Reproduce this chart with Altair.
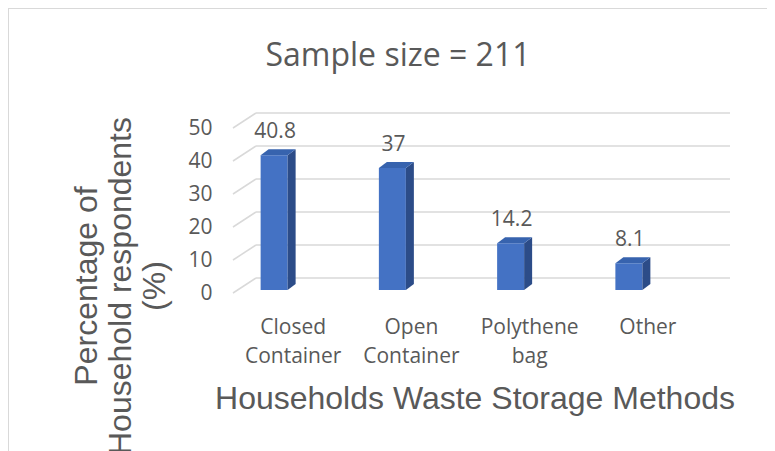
import altair as alt
import numpy as np
import pandas as pd

# ---- data ----
categories = ["Closed Container", "Open Container", "Polythene bag", "Other"]
values = [40.8, 37, 14.2, 8.1]
y_ticks = [0, 10, 20, 30, 40, 50]
title_text = "Sample size = 211"
x_title = "Households Waste Storage Methods"
y_title = ["Percentage of", "Household respondents", "(%)"]

# ---- layout / style constants (pixels) ----
W, H = 473, 165           # plot area
X_DOMAIN = [0, 4]
Y_DOMAIN = [0, 50]
PX_X = W / (X_DOMAIN[1] - X_DOMAIN[0])   # px per x unit
PX_Y = H / (Y_DOMAIN[1] - Y_DOMAIN[0])   # px per y unit
HALF_W = 13.5 / PX_X      # half bar width in x units
DX = 8 / PX_X             # 3-D depth, x
DY = 6 / PX_Y             # 3-D depth, y

TEXT = "#595959"
GRID = "#D9D9D9"
FRONT = "#4472C4"
SIDE = "#2C4C88"
TOP = "#3763AE"
LBL_FONT = "Open Sans"
AX_FONT = "Liberation Sans"

pos = np.arange(len(categories)) + 0.5
bars = pd.DataFrame({
    "cat": categories,
    "value": values,
    "pos": pos,
    "xl": pos - HALF_W,
    "xr": pos + HALF_W,
    "label": [c.replace(" ", "\n") for c in categories],
    "vtext": [f"{v:g}" for v in values],
})

side_rows, top_rows = [], []
for c, v, xl, xr in zip(categories, values, bars["xl"], bars["xr"]):
    side_rows += [
        {"cat": c, "x": xr, "y": v, "y2": 0},
        {"cat": c, "x": xr + DX, "y": v + DY, "y2": DY},
    ]
    top_rows += [
        {"cat": c, "x": xl, "y": v, "y2": v},
        {"cat": c, "x": xl + DX, "y": v + DY, "y2": v},
        {"cat": c, "x": xr, "y": v + DY, "y2": v},
        {"cat": c, "x": xr + DX, "y": v + DY, "y2": v + DY},
    ]
side = pd.DataFrame(side_rows)
top = pd.DataFrame(top_rows)
grid = pd.DataFrame({"t": y_ticks})

xsc = alt.Scale(domain=X_DOMAIN, nice=False, zero=False)
ysc = alt.Scale(domain=Y_DOMAIN, nice=False)

y_axis = alt.Axis(
    values=y_ticks, title=None, domain=False, ticks=False, grid=False,
    labelFont=LBL_FONT, labelFontSize=21, labelColor=TEXT, labelPadding=3,
    labelOffset=3,
)


def Y(field):
    return alt.Y(field, scale=ysc, axis=y_axis, title=None)


grid_diag = alt.Chart(grid).mark_rule(
    color=GRID, strokeWidth=1.5, yOffset=3, y2Offset=-12
).encode(
    y=Y("t:Q"),
    y2="t:Q",
    x=alt.value(18), x2=alt.value(41),
)
grid_back = alt.Chart(grid).mark_rule(
    color=GRID, strokeWidth=1.5, yOffset=-12
).encode(
    y=Y("t:Q"),
    x=alt.value(41), x2=alt.value(515),
)

front = alt.Chart(bars).mark_rect(color=FRONT).encode(
    x=alt.X("xl:Q", scale=xsc, axis=None),
    x2="xr:Q",
    y=Y("value:Q"),
    y2=alt.datum(0),
)
side_face = alt.Chart(side).mark_area(color=SIDE, interpolate="linear").encode(
    x=alt.X("x:Q", scale=xsc, axis=None),
    y=Y("y:Q"),
    y2="y2:Q",
    detail="cat:N",
)
top_face = alt.Chart(top).mark_area(color=TOP, interpolate="linear").encode(
    x=alt.X("x:Q", scale=xsc, axis=None),
    y=Y("y:Q"),
    y2="y2:Q",
    detail="cat:N",
)
value_labels = alt.Chart(bars).mark_text(
    font=LBL_FONT, fontSize=21, color=TEXT, baseline="alphabetic", dy=-17, dx=1
).encode(
    x=alt.X("pos:Q", scale=xsc, axis=None),
    y=Y("value:Q"),
    text="vtext:N",
)
cat_labels = alt.Chart(bars).mark_text(
    font=LBL_FONT, fontSize=21, color=TEXT, baseline="alphabetic",
    lineBreak="\n", lineHeight=29, dx=19,
).encode(
    x=alt.X("pos:Q", scale=xsc, axis=None),
    y=alt.value(209),
    text="label:N",
)

ann = pd.DataFrame({"k": [0]})
title_mark = alt.Chart(ann).mark_text(
    font=LBL_FONT, fontSize=32, color=TEXT, baseline="alphabetic", text=title_text
).encode(x=alt.value(183), y=alt.value(-59))
xtitle_mark = alt.Chart(ann).mark_text(
    font=AX_FONT, fontSize=32, color=TEXT, baseline="alphabetic", text=x_title
).encode(x=alt.value(260), y=alt.value(284))
ytitle_mark = alt.Chart(ann).mark_text(
    font=AX_FONT, fontSize=32, color=TEXT, baseline="middle", angle=270,
    lineHeight=34, text=y_title
).encode(x=alt.value(-128), y=alt.value(161))
frame_top = alt.Chart(ann).mark_rule(color=GRID, strokeWidth=1).encode(
    x=alt.value(-207), x2=alt.value(560), y=alt.value(-116.5)
)
frame_left = alt.Chart(ann).mark_rule(color=GRID, strokeWidth=1).encode(
    x=alt.value(-206.5), y=alt.value(-117), y2=alt.value(340)
)

chart = alt.layer(
    grid_diag, grid_back, front, side_face, top_face, value_labels,
    cat_labels, title_mark, xtitle_mark, ytitle_mark, frame_top, frame_left,
).properties(
    width=W, height=H,
    autosize=alt.AutoSizeParams(type="none"),
    padding={"left": 207, "top": 117, "right": 79, "bottom": 161},
).configure_view(stroke=None)

chart.save("out.html", embed_options={"renderer": "svg", "actions": False})
